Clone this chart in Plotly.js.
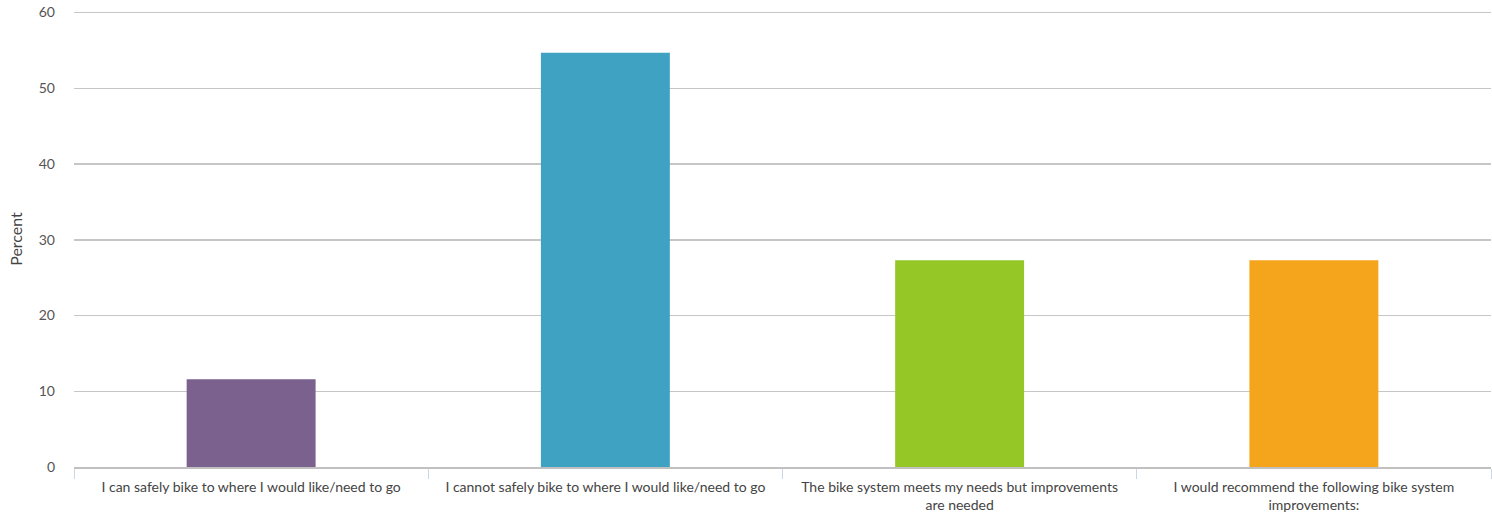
<!DOCTYPE html>
<html>
<head>
<meta charset="utf-8">
<script src="https://cdn.plot.ly/plotly-3.0.1.min.js"></script>
<style>html,body{margin:0;padding:0;background:#fff;}#chart{width:1492px;height:517px;}</style>
</head>
<body>
<div id="chart"></div>
<script>
var categories = [
  "I can safely bike to where I would like/need to go",
  "I cannot safely bike to where I would like/need to go",
  "The bike system meets my needs but improvements<br>are needed",
  "I would recommend the following bike system<br>improvements:"
];
var values = [11.6, 54.7, 27.3, 27.3];
var barColors = ["#7b618e", "#3fa2c2", "#95c826", "#f4a51c"];
var yTicks = [0, 10, 20, 30, 40, 50, 60];

var trace = {
  type: "bar",
  x: categories,
  y: values,
  marker: {color: barColors},
  hoverinfo: "x+y"
};

var layout = {
  width: 1492,
  height: 517,
  margin: {l: 74, r: 1, t: 11, b: 50},
  paper_bgcolor: "#fff",
  plot_bgcolor: "#fff",
  bargap: 0.636,
  showlegend: false,
  font: {family: "Lato, 'Open Sans', sans-serif", color: "#444"},
  xaxis: {
    type: "category",
    tickson: "boundaries",
    ticks: "outside",
    ticklen: 10,
    tickwidth: 1,
    tickcolor: "#ccd6eb",
    showgrid: false,
    showline: true,
    linecolor: "#c0c0c0",
    linewidth: 2,
    ticklabelstandoff: 6,
    tickfont: {size: 14, color: "#444"},
    automargin: false
  },
  yaxis: {
    range: [0, 60.2],
    tickvals: yTicks,
    ticktext: yTicks.map(String),
    showgrid: true,
    gridcolor: "#c6c6c6",
    gridwidth: 1.5,
    zeroline: false,
    showline: false,
    ticks: "",
    ticklabelstandoff: 18,
    tickfont: {size: 14, color: "#555"},
    title: {text: "Percent", font: {size: 16, color: "#444"}, standoff: 12},
    automargin: false
  }
};

Plotly.newPlot("chart", [trace], layout, {displayModeBar: false, staticPlot: true});
</script>
</body>
</html>
